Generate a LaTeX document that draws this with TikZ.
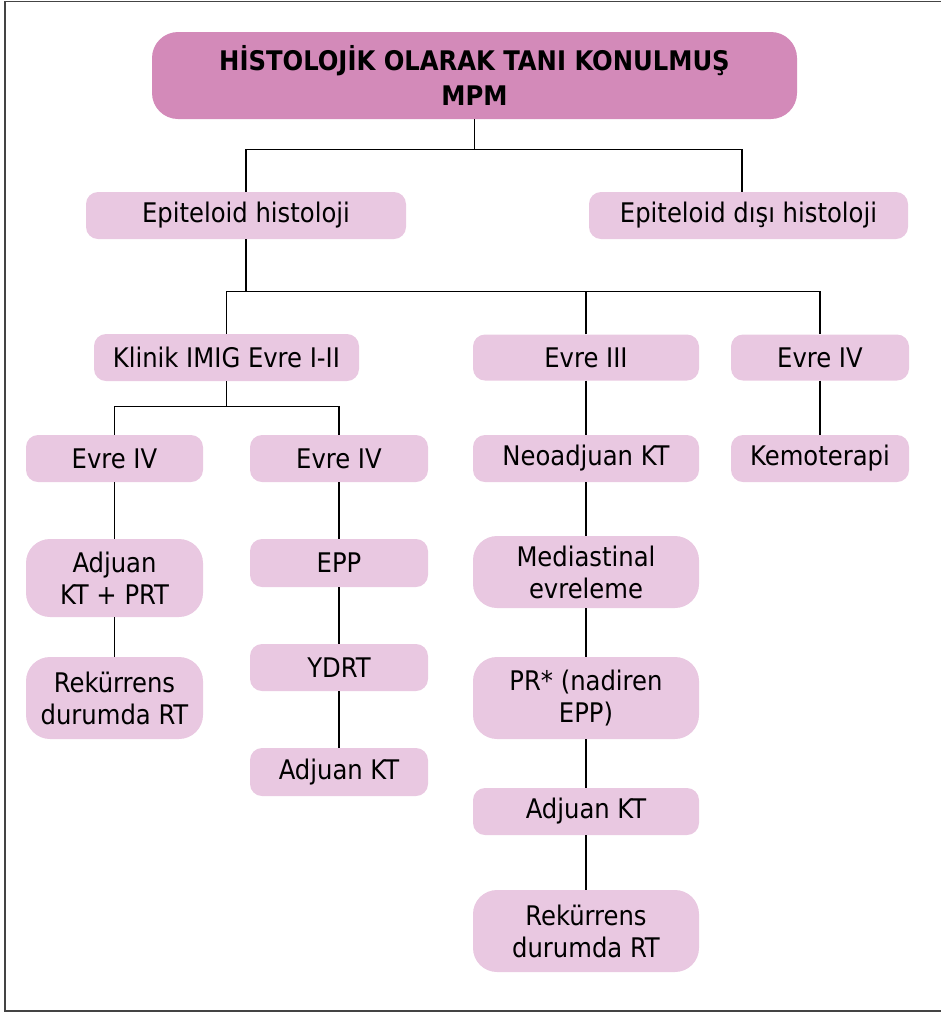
\documentclass[tikz,border=0pt]{standalone}
\usepackage{fontspec}
\setmainfont{DejaVu Sans Condensed}
\usetikzlibrary{calc}

\definecolor{headpink}{HTML}{D38AB9}
\definecolor{boxpink}{HTML}{E9C8E1}
\definecolor{framegray}{HTML}{444444}

\tikzset{
  box/.style={fill=boxpink, rounded corners=12pt, inner sep=0pt, align=center,
              font=\fontsize{27}{32}\selectfont, text=black},
  tallbox/.style={box, rounded corners=24pt},
  headbox/.style={fill=headpink, rounded corners=26pt, inner sep=0pt, align=center,
                  font=\bfseries\fontsize{27}{35}\selectfont, text=black},
  link/.style={draw=black, line width=1.2pt},
}

\begin{document}
\begin{tikzpicture}[x=1pt, y=-1pt]
\useasboundingbox (0,0) rectangle (941,1013);

% open frame around the chart
\draw[framegray, line width=1.6pt] (941,1.5) -| (5,1011) -- (941,1011);

% boxes (centre, width, height in px)
\node[headbox, minimum width=645pt, minimum height=87pt] (head) at (474.5,75.5)
  {HİSTOLOJİK OLARAK TANI KONULMUŞ\\MPM};

\node[box, minimum width=320pt, minimum height=47pt] (epi)    at (246,215.5) {Epiteloid histoloji};
\node[box, minimum width=319pt, minimum height=47pt] (nonepi) at (748.5,215.5) {Epiteloid dışı histoloji};

\node[box, minimum width=265pt, minimum height=47pt] (klinik) at (226.5,357.5) {Klinik IMIG Evre I-II};
\node[box, minimum width=226pt, minimum height=46pt] (evIII)  at (586,357.5) {Evre III};
\node[box, minimum width=178pt, minimum height=46pt] (evIVr)  at (820,357.5) {Evre IV};

\node[box, minimum width=177pt, minimum height=47pt] (evIVa)  at (114.5,458.5) {Evre IV};
\node[box, minimum width=178pt, minimum height=47pt] (evIVb)  at (339,458.5) {Evre IV};
\node[box, minimum width=226pt, minimum height=47pt] (neo)    at (586,458.5) {Neoadjuan KT};
\node[box, minimum width=178pt, minimum height=47pt] (kemo)   at (820,458.5) {Kemoterapi};

\node[tallbox, minimum width=177pt, minimum height=78pt] (adjprt) at (114.5,578) {Adjuan\\KT + PRT};
\node[box, minimum width=178pt, minimum height=48pt] (epp)    at (339,563) {EPP};
\node[tallbox, minimum width=226pt, minimum height=72pt] (med) at (586,572) {Mediastinal\\evreleme};

\node[tallbox, minimum width=177pt, minimum height=82pt] (rekA) at (114.5,698) {Rekürrens\\durumda RT};
\node[box, minimum width=178pt, minimum height=47pt] (ydrt)   at (339,667.5) {YDRT};
\node[tallbox, minimum width=226pt, minimum height=82pt] (pr)  at (586,698) {PR* (nadiren\\EPP)};

\node[box, minimum width=178pt, minimum height=48pt] (adjB)   at (339,772) {Adjuan KT};
\node[box, minimum width=226pt, minimum height=47pt] (adjC)   at (586,811.5) {Adjuan KT};
\node[tallbox, minimum width=226pt, minimum height=82pt] (rekC) at (586,931) {Rekürrens\\durumda RT};

% bus junctions
\coordinate (busTop) at ($(head.south)+(0,30.5)$);
\coordinate (busMid) at ($(epi.south)+(0,52.5)$);
\coordinate (busLow) at ($(klinik.south)+(0,25)$);

% connectors
\draw[link] (head.south) -- (busTop);
\draw[link] (epi.north) |- (busTop) -| ([xshift=-6.5pt]nonepi.north);

\draw[link] (epi.south) -- (busMid);
\draw[link] (klinik.north) |- (busMid) -| (evIVr.north);
\draw[link] (evIII.north) -- (evIII.north |- busMid);

\draw[link] (klinik.south) -- (busLow);
\draw[link] (evIVa.north) |- (busLow) -| (evIVb.north);

\draw[link] (evIVa.south) -- (adjprt.north);
\draw[link] (adjprt.south) -- (rekA.north);

\draw[link] (evIVb.south) -- (epp.north);
\draw[link] (epp.south) -- (ydrt.north);
\draw[link] (ydrt.south) -- (adjB.north);

\draw[link] (evIII.south) -- (neo.north);
\draw[link] (neo.south) -- (med.north);
\draw[link] (med.south) -- (pr.north);
\draw[link] (pr.south) -- (adjC.north);
\draw[link] (adjC.south) -- (rekC.north);

\draw[link] (evIVr.south) -- (kemo.north);
\end{tikzpicture}
\end{document}
